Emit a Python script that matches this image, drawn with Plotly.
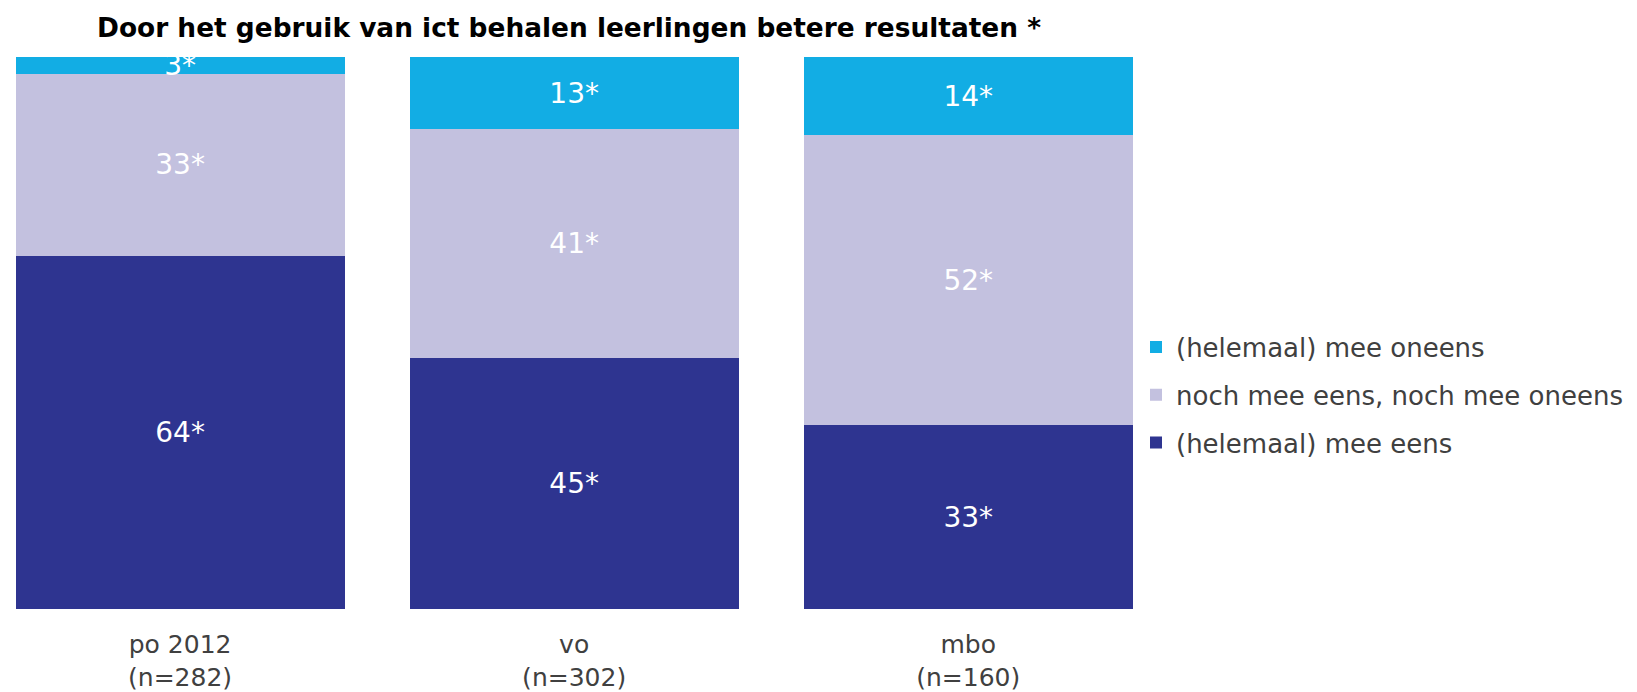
import plotly.graph_objects as go

categories = ["po 2012<br>(n=282)", "vo<br>(n=302)", "mbo<br>(n=160)"]
mee_eens = [64, 45, 33]
noch = [33, 41, 52]
mee_oneens = [3, 13, 14]
series_names = ["(helemaal) mee eens", "noch mee eens, noch mee oneens", "(helemaal) mee oneens"]
colors = ["#2E3490", "#C3C1DF", "#12ADE4"]
title_text = "Door het gebruik van ict behalen leerlingen betere resultaten *"

FONT = "Verdana, 'DejaVu Sans', sans-serif"
fig = go.Figure()
for i, (name, vals, col) in enumerate(zip(series_names, [mee_eens, noch, mee_oneens], colors)):
    fig.add_trace(go.Bar(
        x=categories, y=vals, name=name,
        marker=dict(color=col, line=dict(width=0)),
        text=[f"{v}*" for v in vals],
        textposition="inside", insidetextanchor="middle",
        constraintext="none", textangle=0,
        textfont=dict(family=FONT, size=28, color="white"),
        width=0.835,
        legendrank=3 - i,
        legendgroup=f"g{i}",
        hoverinfo="skip",
    ))

fig.update_layout(
    width=1637, height=692,
    barmode="stack", barnorm="percent",
    paper_bgcolor="white", plot_bgcolor="white",
    margin=dict(l=0, r=497, t=57, b=83, autoexpand=False),
    showlegend=True,
    legend=dict(
        xref="container", yref="container",
        x=1136/1637, y=1 - 395/692, xanchor="left", yanchor="middle",
        traceorder="grouped", tracegroupgap=11,
        font=dict(family=FONT, size=26, color="#404040"),
        bgcolor="rgba(0,0,0,0)",
    ),
    title=dict(
        text=f"<b>{title_text}</b>",
        xref="container", yref="container",
        x=97/1637, xanchor="left", y=1 - 28/692, yanchor="middle",
        font=dict(family=FONT, size=26.4, color="black"),
    ),
    font=dict(family=FONT),
)
fig.update_xaxes(
    range=[-0.457, 2.436], showgrid=False, showline=False, zeroline=False,
    tickfont=dict(family=FONT, size=25, color="#404040"),
    ticks="", ticklabelstandoff=18, automargin=False,
)
fig.update_yaxes(range=[0, 100], visible=False, showgrid=False, automargin=False)

fig.write_html(
    "out.html",
    config={"displayModeBar": False},
    post_script="document.body.style.margin='0';document.body.style.padding='0';",
)
